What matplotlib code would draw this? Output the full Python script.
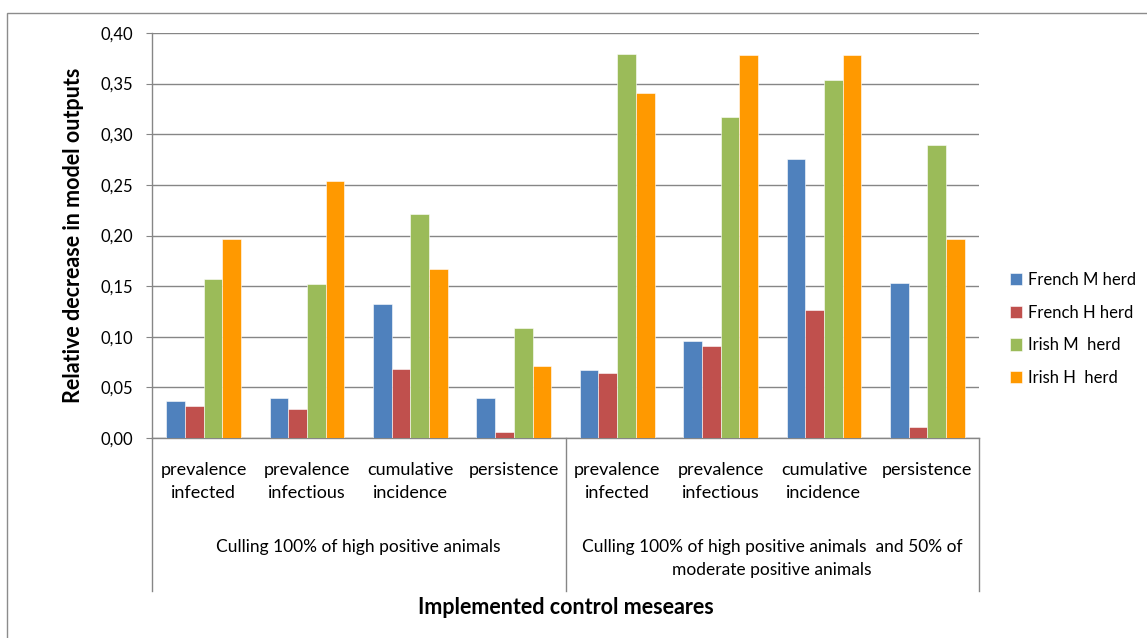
import numpy as np
import matplotlib
matplotlib.use("Agg")
import matplotlib.pyplot as plt
from matplotlib.patches import Rectangle
from matplotlib.lines import Line2D

plt.rcParams["font.family"] = ["Lato", "DejaVu Sans"]

# data
measures = ["prevalence\ninfected", "prevalence\ninfectious", "cumulative\nincidence", "persistence"] * 2
groups = ["Culling 100% of high positive animals",
          "Culling 100% of high positive animals  and 50% of\nmoderate positive animals"]
series = ["French M herd", "French H herd", "Irish M  herd", "Irish H  herd"]
french_m = [0.037, 0.040, 0.132, 0.040, 0.067, 0.096, 0.276, 0.153]
french_h = [0.032, 0.029, 0.068, 0.006, 0.064, 0.091, 0.126, 0.011]
irish_m = [0.157, 0.152, 0.221, 0.109, 0.379, 0.317, 0.354, 0.289]
irish_h = [0.197, 0.254, 0.167, 0.071, 0.341, 0.378, 0.378, 0.197]
colors = ["#4F81BD", "#C0504D", "#9BBB59", "#FF9900"]

fig = plt.figure(figsize=(11.47, 6.38), dpi=100)
ax = fig.add_axes([152 / 1147, 1 - 438 / 638, (979 - 152) / 1147, (438 - 33) / 638])

# outer chart border (clipped at right/bottom like the reference)
fig.patches.append(Rectangle((7 / 1147, -0.05), 1.1, 1 - 13 / 638 + 0.05,
                             transform=fig.transFigure, fill=False,
                             edgecolor="#8c8c8c", linewidth=1.0))

x = np.arange(len(measures)) + 0.5
w = 0.181
for k, vals in enumerate([french_m, french_h, irish_m, irish_h]):
    ax.bar(x + (k - 1.5) * w, vals, width=w, color=colors[k],
           edgecolor="white", linewidth=0.4, label=series[k], zorder=3)

ax.set_xlim(0, 8)
ax.set_ylim(0, 0.40)
ax.set_yticks(np.arange(0, 0.401, 0.05))
ax.set_yticklabels([f"{v:.2f}".replace(".", ",") for v in np.arange(0, 0.401, 0.05)], fontsize=12)
ax.yaxis.grid(True, color="#868686", linewidth=1.0, zorder=0)
ax.tick_params(axis="y", length=4.3, color="#868686", pad=9)
ax.set_xticks(x)
ax.set_xticklabels(measures, fontsize=13, linespacing=1.6)
ax.tick_params(axis="x", length=0, pad=17)

for s in ["top", "right"]:
    ax.spines[s].set_visible(False)
for s in ["left", "bottom"]:
    ax.spines[s].set_color("#868686")
    ax.spines[s].set_linewidth(1.0)

# group separators of the multi-level category axis
for xv in [0, 4, 8]:
    ax.add_line(Line2D([xv, xv], [0, -0.378], transform=ax.get_xaxis_transform(),
                       color="#868686", linewidth=1.0, clip_on=False))
trans = ax.get_xaxis_transform()
ax.text(2, -0.269, groups[0], transform=trans, ha="center", va="center", fontsize=12.5)
ax.text(6, -0.297, groups[1], transform=trans, ha="center", va="center",
        fontsize=12.5, linespacing=1.55)

ax.set_ylabel("Relative decrease in model outputs", fontsize=15.5, fontweight="bold", labelpad=12)
fig.text((152 + 979) / 2 / 1147, 1 - 608 / 638, "Implemented control meseares",
         ha="center", va="center", fontsize=15.5, fontweight="bold")

leg = ax.legend(loc="center left", bbox_to_anchor=(995 / 1147, 1 - 329 / 638),
                bbox_transform=fig.transFigure, frameon=False, fontsize=12,
                handlelength=0.75, handleheight=0.75, handletextpad=0.3, labelspacing=1.0)

fig.savefig("out.png", dpi=100)
